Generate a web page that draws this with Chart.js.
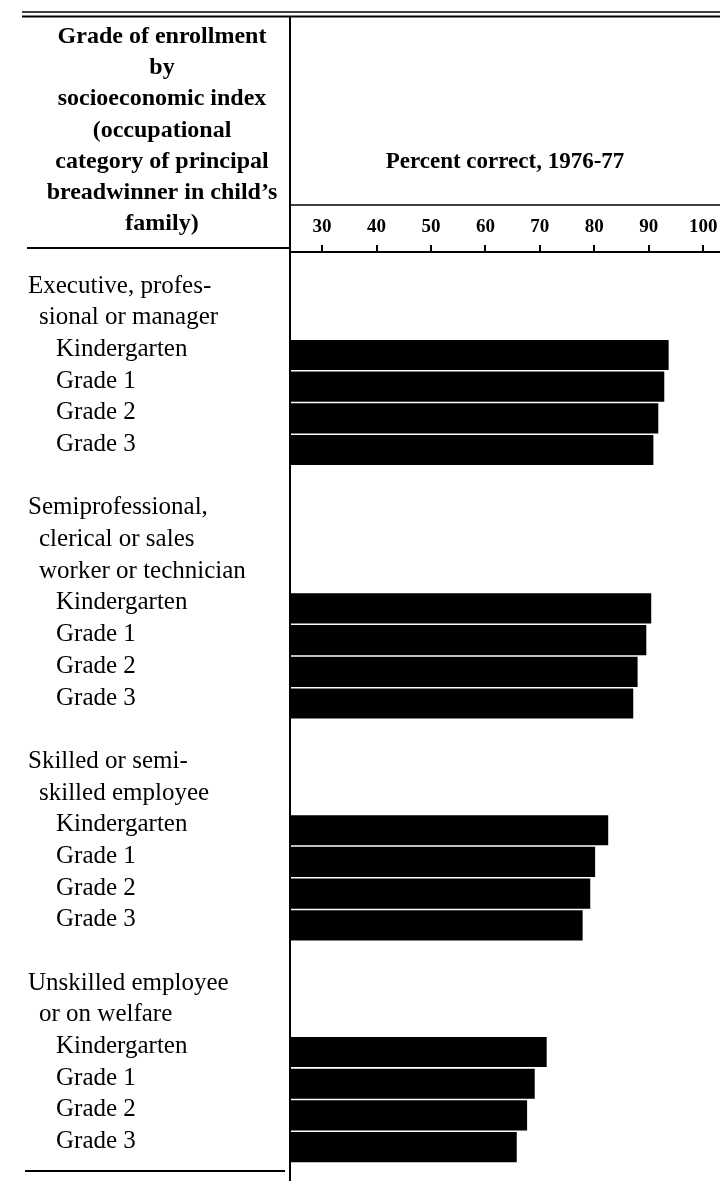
<!DOCTYPE html>
<html>
<head>
<meta charset="utf-8">
<script src="https://cdn.jsdelivr.net/npm/chart.js@4.4.1/dist/chart.umd.min.js"></script>
<style>
  html, body { margin: 0; padding: 0; background: #fff; }
  #wrap { width: 720px; height: 1181px; position: relative; }
</style>
</head>
<body>
<div id="wrap"><canvas id="c"></canvas></div>
<script>
// ---- data ----
const headerLines = ["Grade of enrollment", "by", "socioeconomic index", "(occupational", "category of principal", "breadwinner in child\u2019s", "family)"];
const axisTitle = "Percent correct, 1976-77";
const groupTitles = [
  ["Executive, profes-", "sional or manager"],
  ["Semiprofessional,", "clerical or sales", "worker or technician"],
  ["Skilled or semi-", "skilled employee"],
  ["Unskilled employee", "or on welfare"]
];
const grades = ["Kindergarten", "Grade 1", "Grade 2", "Grade 3"];
const execValues = [93.6, 92.8, 91.7, 90.8];
const semiValues = [90.4, 89.5, 87.9, 87.1];
const skilledValues = [82.5, 80.1, 79.2, 77.8];
const unskilledValues = [71.2, 69.0, 67.6, 65.7];
const xTicks = [30, 40, 50, 60, 70, 80, 90, 100];
const xMin = 24.1, xMax = 103.1;

// ---- build rows ----
const groupValues = [execValues, semiValues, skilledValues, unskilledValues];
const rows = [];
groupTitles.forEach((lines, g) => {
  if (g > 0) rows.push({ text: "", level: -1 });
  lines.forEach((t, k) => rows.push({ text: t, level: k === 0 ? 0 : 1 }));
  grades.forEach((gr, k) => rows.push({ text: gr, level: 2, value: groupValues[g][k] }));
});
const barData = rows.map((r, i) => (r.value != null ? { x: r.value, y: i } : null)).filter(Boolean);
const yMin = -1.25, yMax = 28.07;

const SERIF = "'Liberation Serif', 'Times New Roman', serif";
const indent = { 0: 28, 1: 39, 2: 56 };

const tablePlugin = {
  id: 'tableRules',
  afterDraw(chart) {
    const { ctx, chartArea: ca } = chart;
    const y = chart.scales.y;
    ctx.save();
    ctx.strokeStyle = '#000';
    const line = (x1, y1, x2, y2, w) => {
      ctx.lineWidth = w; ctx.beginPath(); ctx.moveTo(x1, y1); ctx.lineTo(x2, y2); ctx.stroke();
    };
    line(22, 12, 720, 12, 1.5);
    line(22, 16.5, 720, 16.5, 2);
    line(ca.left, 16, ca.left, 1181, 2);
    line(ca.left, 205, 720, 205, 1.5);
    line(27, ca.top - 4, ca.left, ca.top - 4, 2);
    line(25, 1171, ca.left - 5, 1171, 2);

    ctx.fillStyle = '#000';
    ctx.font = "bold 24px " + SERIF;
    ctx.textAlign = 'center';
    ctx.textBaseline = 'alphabetic';
    headerLines.forEach((t, i) => ctx.fillText(t, 162, 43 + i * 31.2));

    ctx.font = "25px " + SERIF;
    ctx.textAlign = 'left';
    rows.forEach((r, i) => {
      if (r.level < 0) return;
      ctx.fillText(r.text, indent[r.level], y.getPixelForValue(i) + 1);
    });
    ctx.restore();
  }
};

new Chart(document.getElementById('c'), {
  type: 'bar',
  data: {
    datasets: [{
      data: barData,
      backgroundColor: '#000',
      borderWidth: 0,
      barThickness: 29.5,
      base: xMin
    }]
  },
  options: {
    indexAxis: 'y',
    responsive: true,
    maintainAspectRatio: false,
    animation: false,
    layout: { padding: { left: 290, top: 148.2, right: 0, bottom: 0 } },
    plugins: { legend: { display: false }, tooltip: { enabled: false } },
    scales: {
      x: {
        type: 'linear',
        position: 'top',
        min: xMin,
        max: xMax,
        afterBuildTicks: (s) => { s.ticks = xTicks.map(v => ({ value: v })); },
        afterFit: (s) => { s.paddingLeft = 0; s.paddingRight = 0; },
        grid: { display: true, drawOnChartArea: false, drawTicks: true, tickLength: 7, color: '#000', lineWidth: 2 },
        border: { display: true, color: '#000', width: 2 },
        ticks: { color: '#000', padding: 7, font: { family: SERIF, size: 19, weight: 'bold' } },
        title: { display: true, text: axisTitle, color: '#000', font: { family: SERIF, size: 23, weight: 'bold' }, padding: { top: 0, bottom: 32.4 } }
      },
      y: {
        type: 'linear',
        reverse: true,
        offset: false,
        bounds: 'data',
        min: yMin,
        max: yMax,
        grid: { offset: false },
        afterBuildTicks: (s) => { s.min = yMin; s.max = yMax; s.ticks = [{ value: yMin }, { value: yMax }]; },
        display: false
      }
    }
  },
  plugins: [tablePlugin]
});
</script>
</body>
</html>
